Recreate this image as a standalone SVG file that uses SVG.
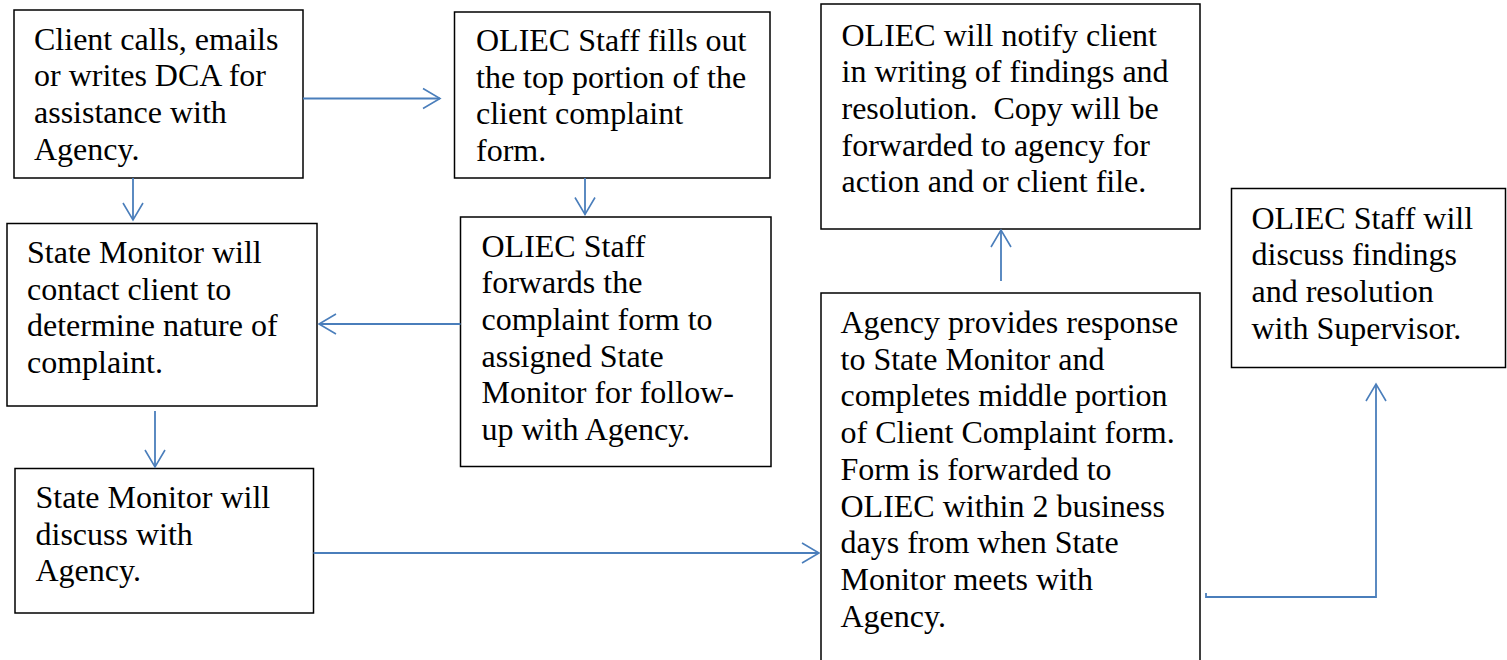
<svg xmlns="http://www.w3.org/2000/svg" width="1507" height="660" viewBox="0 0 1507 660">
<defs>
<marker id="arr" viewBox="-20 -12 22 24" markerWidth="22" markerHeight="24" refX="0" refY="0" orient="auto" markerUnits="userSpaceOnUse">
<path d="M-17,-10 L0,0 L-17,10" fill="none" stroke="#4A7EBB" stroke-width="1.6"/>
</marker>
<style>
.box{fill:#fff;stroke:#000;stroke-width:1.5}
.t{font-family:"Liberation Serif","Times New Roman",serif;font-size:32px;fill:#000}
.c{fill:none;stroke:#4A7EBB;stroke-width:1.8}
</style>
</defs>
<rect width="1507" height="660" fill="#fff"/>
<g id="n1"><rect class="box" x="14" y="10" width="289" height="168"/>
<text class="t" x="34" y="49.5"><tspan x="34">Client calls, emails</tspan><tspan x="34" dy="36.7">or writes DCA for</tspan><tspan x="34" dy="36.7">assistance with</tspan><tspan x="34" dy="36.7">Agency.</tspan></text></g>
<g id="n2"><rect class="box" x="454.5" y="12" width="315.5" height="166"/>
<text class="t" x="476" y="51"><tspan x="476">OLIEC Staff fills out</tspan><tspan x="476" dy="36.7">the top portion of the</tspan><tspan x="476" dy="36.7">client complaint</tspan><tspan x="476" dy="36.7">form.</tspan></text></g>
<g id="n3"><rect class="box" x="460.5" y="217" width="310.5" height="249.5"/>
<text class="t" x="481.5" y="256.5"><tspan x="481.5">OLIEC Staff</tspan><tspan x="481.5" dy="36.7">forwards the</tspan><tspan x="481.5" dy="36.7">complaint form to</tspan><tspan x="481.5" dy="36.7">assigned State</tspan><tspan x="481.5" dy="36.7">Monitor for follow-</tspan><tspan x="481.5" dy="36.7">up with Agency.</tspan></text></g>
<g id="n4"><rect class="box" x="7" y="223.5" width="310" height="182.5"/>
<text class="t" x="27" y="263"><tspan x="27">State Monitor will</tspan><tspan x="27" dy="36.7">contact client to</tspan><tspan x="27" dy="36.7">determine nature of</tspan><tspan x="27" dy="36.7">complaint.</tspan></text></g>
<g id="n5"><rect class="box" x="15" y="468.5" width="298.5" height="144.5"/>
<text class="t" x="35.5" y="508"><tspan x="35.5">State Monitor will</tspan><tspan x="35.5" dy="36.7">discuss with</tspan><tspan x="35.5" dy="36.7">Agency.</tspan></text></g>
<g id="n6"><rect class="box" x="821" y="4" width="379" height="225"/>
<text class="t" x="841.5" y="45.5" xml:space="preserve"><tspan x="841.5">OLIEC will notify client</tspan><tspan x="841.5" dy="36.7">in writing of findings and</tspan><tspan x="841.5" dy="36.7">resolution.  Copy will be</tspan><tspan x="841.5" dy="36.7">forwarded to agency for</tspan><tspan x="841.5" dy="36.7">action and or client file.</tspan></text></g>
<g id="n7"><rect class="box" x="821" y="293" width="379" height="380"/>
<text class="t" x="840.5" y="333"><tspan x="840.5">Agency provides response</tspan><tspan x="840.5" dy="36.7">to State Monitor and</tspan><tspan x="840.5" dy="36.7">completes middle portion</tspan><tspan x="840.5" dy="36.7">of Client Complaint form.</tspan><tspan x="840.5" dy="36.7">Form is forwarded to</tspan><tspan x="840.5" dy="36.7">OLIEC within 2 business</tspan><tspan x="840.5" dy="36.7">days from when State</tspan><tspan x="840.5" dy="36.7">Monitor meets with</tspan><tspan x="840.5" dy="36.7">Agency.</tspan></text></g>
<g id="n8"><rect class="box" x="1231.5" y="188.5" width="274" height="179"/>
<text class="t" x="1251.5" y="228.5"><tspan x="1251.5">OLIEC Staff will</tspan><tspan x="1251.5" dy="36.7">discuss findings</tspan><tspan x="1251.5" dy="36.7">and resolution</tspan><tspan x="1251.5" dy="36.7">with Supervisor.</tspan></text></g>
<g id="connectors">
<path class="c" d="M303,98.5 H440" marker-end="url(#arr)"/>
<path class="c" d="M133,178 V220" marker-end="url(#arr)"/>
<path class="c" d="M585,178 V214.5" marker-end="url(#arr)"/>
<path class="c" d="M460.5,324 H319" marker-end="url(#arr)"/>
<path class="c" d="M155,411 V467" marker-end="url(#arr)"/>
<path class="c" d="M313.5,553 H819" marker-end="url(#arr)"/>
<path class="c" d="M1001,281 V230" marker-end="url(#arr)"/>
<path class="c" d="M1206,593 V597 H1376 V384" marker-end="url(#arr)"/>
</g>
</svg>
